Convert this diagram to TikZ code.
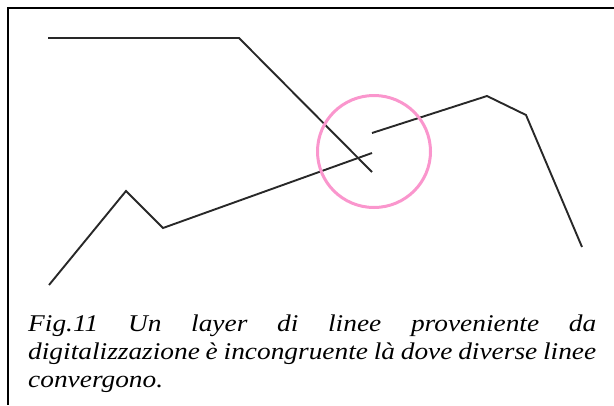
\documentclass[tikz,border=0pt]{standalone}
\usepackage{fontspec}
\setmainfont{Liberation Serif}
\newfontfamily\capfont[FakeStretch=1.14]{Liberation Serif}
\definecolor{ringpink}{RGB}{250,150,205}
\definecolor{linegray}{RGB}{40,40,40}
\tikzset{
  polyl/.style={draw=linegray, line width=1.9pt, line join=miter},
  frameline/.style={draw=black, line width=2.3pt},
  ring/.style={draw=ringpink, line width=3pt},
  captionline/.style={anchor=base west, inner sep=0pt, font=\capfont\itshape\fontsize{24}{28}\selectfont}
}
\begin{document}
\begin{tikzpicture}[x=1pt,y=-1pt]
\useasboundingbox (0,0) rectangle (614,405);
% frame (top and left edges)
\coordinate (f0) at (8,8);
\coordinate (f1) at (614,8);
\coordinate (f2) at (8,405);
\draw[frameline] (f1) -- (f0) -- (f2);
% top line
\coordinate (a1) at (48,38);
\coordinate (a2) at (239,38);
\coordinate (a3) at (372,172);
\draw[polyl] (a1) -- (a2) -- (a3);
% lower-left line
\coordinate (b1) at (49,285);
\coordinate (b2) at (126,191);
\coordinate (b3) at (163,228);
\coordinate (b4) at (372,153);
\draw[polyl] (b1) -- (b2) -- (b3) -- (b4);
% right line
\coordinate (c1) at (372,133);
\coordinate (c2) at (487,96);
\coordinate (c3) at (526,115);
\coordinate (c4) at (582,247);
\draw[polyl] (c1) -- (c2) -- (c3) -- (c4);
% circle
\coordinate (o) at (374,151.5);
\draw[ring] (o) ellipse [x radius=56.5, y radius=56];
% caption
\node[captionline] (t1) at (28,331) {\makebox[568pt][s]{Fig.11 Un layer di linee proveniente da}};
\node[captionline] (t2) at (28,359) {\makebox[568pt][s]{digitalizzazione è incongruente là dove diverse linee}};
\node[captionline] (t3) at (28,387) {convergono.};
\end{tikzpicture}
\end{document}
